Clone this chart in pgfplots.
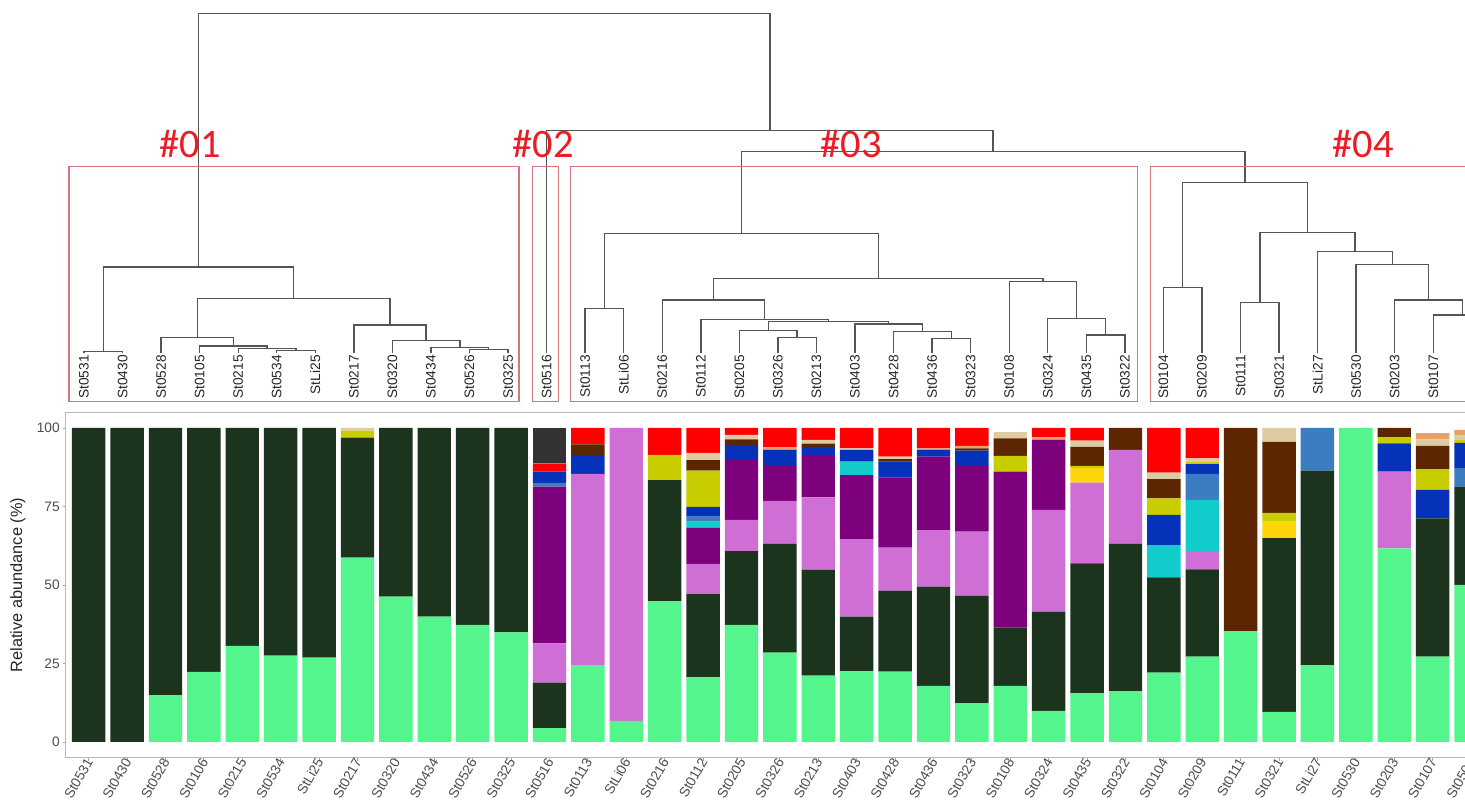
\documentclass[border=0pt]{standalone}
\usepackage{pgfplots}
\pgfplotsset{compat=1.18}
\usepackage{pgfplotstable}
\usepackage{fontspec}
\setmainfont{Liberation Sans}
\newfontfamily\clusterfont{Carlito}

% taxon colours, bottom to top of the stack
\definecolor{lgreen}{RGB}{84,245,140}
\definecolor{dgreen}{RGB}{28,51,30}
\definecolor{orchid}{RGB}{207,110,212}
\definecolor{purp}{RGB}{125,0,125}
\definecolor{cyan2}{RGB}{18,203,203}
\definecolor{steel}{RGB}{59,125,192}
\definecolor{blue2}{RGB}{5,50,185}
\definecolor{gold2}{RGB}{253,214,10}
\definecolor{olive2}{RGB}{200,205,0}
\definecolor{brown2}{RGB}{92,38,0}
\definecolor{tan2}{RGB}{222,203,160}
\definecolor{orange2}{RGB}{232,160,100}
\definecolor{red2}{RGB}{255,0,0}
\definecolor{dgray}{RGB}{51,51,51}
\definecolor{boxred}{RGB}{212,118,122}
\definecolor{clred}{RGB}{237,28,36}
\definecolor{dendro}{RGB}{85,85,85}
\definecolor{txt}{RGB}{77,77,77}

\newcommand\ticksz{\fontsize{7.8}{8}\selectfont}

% relative abundance per sample (segment heights, %)
\pgfplotstableread{
x lg dg orc pur cya stb blu gold oli brn tan ora red dgy
1 0 100 0 0 0 0 0 0 0 0 0 0 0 0
2 0 100 0 0 0 0 0 0 0 0 0 0 0 0
3 14.9 85.1 0 0 0 0 0 0 0 0 0 0 0 0
4 22.3 77.7 0 0 0 0 0 0 0 0 0 0 0 0
5 30.6 69.4 0 0 0 0 0 0 0 0 0 0 0 0
6 27.5 72.5 0 0 0 0 0 0 0 0 0 0 0 0
7 26.9 73.1 0 0 0 0 0 0 0 0 0 0 0 0
8 58.7 38.2 0 0 0 0 0 0 2.3 0 0.8 0 0 0
9 46.3 53.7 0 0 0 0 0 0 0 0 0 0 0 0
10 39.9 60.1 0 0 0 0 0 0 0 0 0 0 0 0
11 37.3 62.7 0 0 0 0 0 0 0 0 0 0 0 0
12 34.9 65.1 0 0 0 0 0 0 0 0 0 0 0 0
13 4.4 14.5 12.5 49.9 0 1.2 3.6 0 0 0 0 0 2.6 11.3
14 24.3 0 61.1 0 0 0 6.0 0 0 3.4 0 0 5.2 0
15 6.7 0 93.3 0 0 0 0 0 0 0 0 0 0 0
16 44.9 38.5 0 0 0 0 0 0 8.0 0 0 0 8.6 0
17 20.6 26.5 9.6 11.6 1.9 1.6 3.1 0 11.5 3.4 2.3 0 7.9 0
18 37.3 23.5 9.9 19.1 0 0 4.8 0 0 1.8 1.4 0 2.2 0
19 28.5 34.7 13.6 11.4 0 0 4.8 0 0 0 0 0.8 6.2 0
20 21.1 33.7 23.1 13.5 0 0 2.6 0 0 1.0 1.2 0 3.8 0
21 22.6 17.3 24.7 20.4 4.3 0 3.7 0 0 0 0.5 0 6.5 0
22 22.4 25.8 13.7 22.3 0 0 5.1 0 0 0.8 0.8 0 9.1 0
23 17.9 31.6 18.0 23.4 0 0 2.1 0 0 0 0 0.5 6.5 0
24 12.3 34.3 20.4 21.2 0 0 4.6 0 0 0.7 0 0.8 5.7 0
25 17.9 18.5 0 49.7 0 0 0 0 5.0 5.6 2.0 0 0 0
26 9.9 31.6 32.4 22.3 0 0 0 0 0 0 0 0.8 3.0 0
27 15.5 41.4 25.7 0 0 0 0 4.6 0.7 6.1 2.0 0 4.0 0
28 16.2 46.9 29.9 0 0 0 0 0 0 7.0 0 0 0 0
29 22.1 30.3 0 0 10.3 0 9.6 0 5.3 6.1 2.1 0 14.2 0
30 27.2 27.8 5.9 0 16.2 8.3 3.1 0 0.8 0 1.0 0 9.7 0
31 35.3 0 0 0 0 0 0 0 0 64.7 0 0 0 0
32 9.6 55.3 0 0 0 0 0 5.3 2.8 22.6 4.4 0 0 0
33 24.5 61.9 0 0 0 13.6 0 0 0 0 0 0 0 0
34 100 0 0 0 0 0 0 0 0 0 0 0 0 0
35 61.7 0 24.4 0 0 0 9.0 0 1.9 3.0 0 0 0 0
36 27.2 44.0 0 0 0 0 9.1 0 6.5 7.5 2.1 2.0 0 0
37 50.0 31.3 0 0 0 5.9 8.1 0 1.0 0 1.5 1.6 0 0
}\abund

% dendrogram segments: leaf index vs height (pixel rows, 0 = top)
\pgfplotstableread{
x y
1 353
1 351.5
2 351.5
2 353
nan nan
6 353
6 350.7
7 350.7
7 353
nan nan
5 353
5 348.3
6.5 348.3
6.5 350.7
nan nan
4 353
4 346
5.75 346
5.75 348.3
nan nan
3 353
3 337.3
4.875 337.3
4.875 346
nan nan
11 353
11 349.3
12 349.3
12 353
nan nan
10 353
10 347.3
11.5 347.3
11.5 349.3
nan nan
9 353
9 340.7
10.75 340.7
10.75 347.3
nan nan
8 353
8 325
9.875 325
9.875 340.7
nan nan
3.9375 337.3
3.9375 298.3
8.9375 298.3
8.9375 325
nan nan
1.5 351.5
1.5 267
6.4375 267
6.4375 298.3
nan nan
14 353
14 308.3
15 308.3
15 353
nan nan
27 353
27 335
28 335
28 353
nan nan
26 353
26 318.3
27.5 318.3
27.5 335
nan nan
25 353
25 281.7
26.75 281.7
26.75 318.3
nan nan
19 353
19 337.7
20 337.7
20 353
nan nan
18 353
18 330.7
19.5 330.7
19.5 337.7
nan nan
23 353
23 338.3
24 338.3
24 353
nan nan
22 353
22 331.7
23.5 331.7
23.5 338.3
nan nan
21 353
21 324
22.75 324
22.75 331.7
nan nan
18.75 330.7
18.75 321.3
21.875 321.3
21.875 324
nan nan
17 353
17 319.3
20.3125 319.3
20.3125 321.3
nan nan
16 353
16 300
18.65625 300
18.65625 319.3
nan nan
17.328125 300
17.328125 278.3
25.875 278.3
25.875 281.7
nan nan
14.5 308.3
14.5 233.3
21.6015625 233.3
21.6015625 278.3
nan nan
29 353
29 287.7
30 287.7
30 353
nan nan
31 353
31 302.7
32 302.7
32 353
nan nan
37 353
37 330
38 330
38 353
nan nan
36 353
36 315
37.5 315
37.5 330
nan nan
35 353
35 300
36.75 300
36.75 315
nan nan
34 353
34 264.3
35.875 264.3
35.875 300
nan nan
33 353
33 251.7
34.9375 251.7
34.9375 264.3
nan nan
31.5 302.7
31.5 232.3
33.96875 232.3
33.96875 251.7
nan nan
29.5 287.7
29.5 182.7
32.734375 182.7
32.734375 232.3
nan nan
18.05078 233.3
18.05078 151.7
31.1171875 151.7
31.1171875 182.7
nan nan
13 353
13 130.7
24.58398 130.7
24.58398 151.7
nan nan
3.96875 267
3.96875 13.3
18.79199 13.3
18.79199 130.7
}\dendro

\begin{document}
\begin{tikzpicture}
\path[use as bounding box] (0,0) rectangle (29.3cm,16.14cm);
\fill[white] (0,0) rectangle (29.3cm,16.14cm);
\clip (0,0) rectangle (29.3cm,16.14cm);

% dendrogram, in pixel rows
\begin{axis}[
  at={(0cm,0cm)}, anchor=south west,
  scale only axis, width=29.3cm, height=16.14cm,
  xmin=-1.179, xmax=36.823, ymin=0, ymax=807,
  y dir=reverse, hide axis,
  unbounded coords=jump,
]
\addplot[dendro, line width=0.8pt] table[x=x,y=y]{\dendro};

\foreach \n [count=\i] in {St0531,St0430,St0528,St0105,St0215,St0534,StLi25,St0217,St0320,St0434,St0526,St0325,St0516,St0113,StLi06,St0216,St0112,St0205,St0326,St0213,St0403,St0428,St0436,St0323,St0108,St0324,St0435,St0322,St0104,St0209,St0111,St0321,StLi27,St0530,St0203,St0107}{
  \edef\tmp{\noexpand\node[rotate=90, anchor=east, inner sep=0pt, text=black!85, font=\noexpand\ticksz] at (axis cs:\i,355) {\n};}\tmp
}

\draw[boxred, line width=0.6pt] (axis cs:0.611,166.7) rectangle (axis cs:12.284,401.7);
\draw[boxred, line width=0.6pt] (axis cs:12.634,166.7) rectangle (axis cs:13.304,401.7);
\draw[boxred, line width=0.6pt] (axis cs:13.620,166.7) rectangle (axis cs:28.336,401.7);
\draw[boxred, line width=0.6pt] (axis cs:28.666,166.7) rectangle (axis cs:38.5,401.7);

\node[font=\clusterfont\fontsize{23}{23}\selectfont, text=clred] at (axis cs:3.75,144) {\#01};
\node[font=\clusterfont\fontsize{23}{23}\selectfont, text=clred] at (axis cs:12.906,144) {\#02};
\node[font=\clusterfont\fontsize{23}{23}\selectfont, text=clred] at (axis cs:20.896,144) {\#03};
\node[font=\clusterfont\fontsize{23}{23}\selectfont, text=clred] at (axis cs:34.178,144) {\#04};
\end{axis}

% stacked bars
\begin{axis}[
  at={(1.3132cm,0.986cm)}, anchor=south west,
  scale only axis, width=28.568cm, height=6.908cm,
  xmin=0.4, xmax=37.6, ymin=-5, ymax=105,
  ybar stacked, bar width=0.87,
  xtick={1,...,37},
  xticklabels={St0531,St0430,St0528,St0106,St0215,St0534,StLi25,St0217,St0320,St0434,St0526,St0325,St0516,St0113,StLi06,St0216,St0112,St0205,St0326,St0213,St0403,St0428,St0436,St0323,St0108,St0324,St0435,St0322,St0104,St0209,St0111,St0321,StLi27,St0530,St0203,St0107,St0506},
  ytick={0,25,50,75,100},
  tick pos=left, tick align=outside, major tick length=0.06cm,
  tick style={gray!70, line width=0.5pt},
  axis line style={gray!55, line width=0.6pt},
  /pgf/number format/assume math mode=true,
  y tick label style={font=\ticksz, text=txt, inner sep=1.5pt},
  x tick label style={rotate=60, anchor=east, font=\ticksz, text=txt, inner sep=1pt, xshift=2pt},
  ylabel={Relative abundance (\%)},
  ylabel style={at={(axis description cs:-0.0334,0.5)}, anchor=center, font=\fontsize{9.3}{10}\selectfont, text=black!85},
]
\addplot[fill=lgreen, draw=none] table[x=x,y=lg]{\abund};
\addplot[fill=dgreen, draw=none] table[x=x,y=dg]{\abund};
\addplot[fill=orchid, draw=none] table[x=x,y=orc]{\abund};
\addplot[fill=purp, draw=none] table[x=x,y=pur]{\abund};
\addplot[fill=cyan2, draw=none] table[x=x,y=cya]{\abund};
\addplot[fill=steel, draw=none] table[x=x,y=stb]{\abund};
\addplot[fill=blue2, draw=none] table[x=x,y=blu]{\abund};
\addplot[fill=gold2, draw=none] table[x=x,y=gold]{\abund};
\addplot[fill=olive2, draw=none] table[x=x,y=oli]{\abund};
\addplot[fill=brown2, draw=none] table[x=x,y=brn]{\abund};
\addplot[fill=tan2, draw=none] table[x=x,y=tan]{\abund};
\addplot[fill=orange2, draw=none] table[x=x,y=ora]{\abund};
\addplot[fill=red2, draw=none] table[x=x,y=red]{\abund};
\addplot[fill=dgray, draw=none] table[x=x,y=dgy]{\abund};
\end{axis}
\end{tikzpicture}
\end{document}
